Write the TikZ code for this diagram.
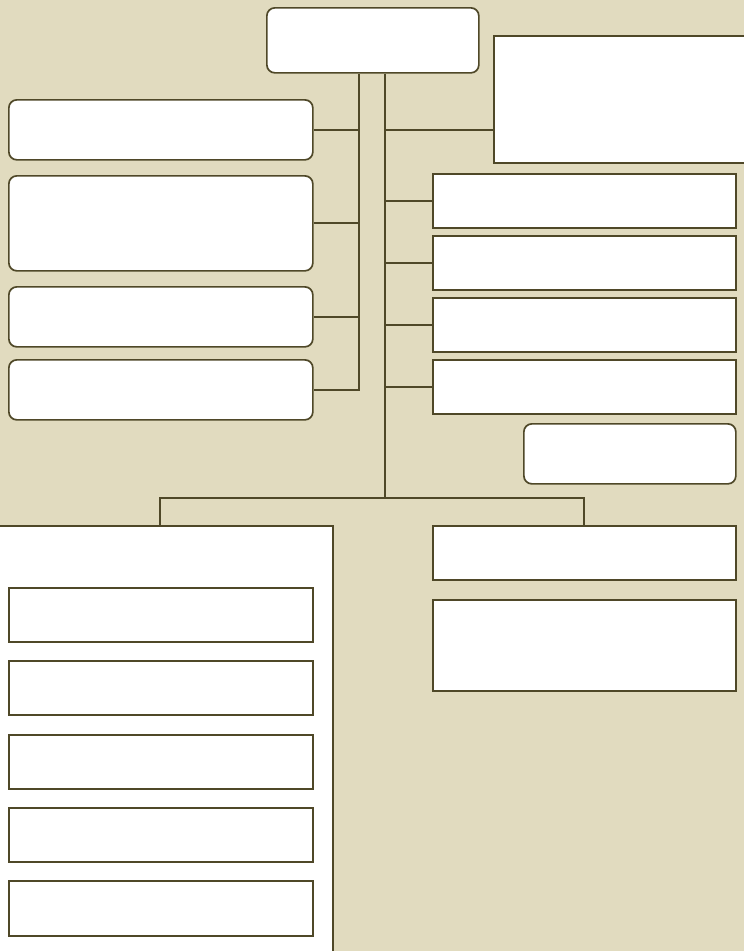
\documentclass[tikz,border=0pt]{standalone}
\usepackage{xcolor}
\usepackage{tikz}
\usetikzlibrary{positioning, calc}

\definecolor{paper}{HTML}{E1DBBF}
\definecolor{olive}{HTML}{4F4828}

\begin{document}
\begin{tikzpicture}[x=1pt, y=-1pt,
		box/.style={draw=olive, fill=white, line width=1.7pt, inner sep=0pt, anchor=north west},
		rbox/.style={box, rounded corners=8pt},
		sbox/.style={box},
		link/.style={draw=olive, line width=2pt}]
		% Background
		\useasboundingbox (0,0) rectangle (744,951);
		\fill[paper] (0,0) rectangle (744,951);
		
		% Top box and the two trunks
		\node[rbox, minimum width=212pt, minimum height=65pt] (top) at (266,7) {};
		\coordinate (trunkL) at (359,0);
		\coordinate (trunkR) at (385,0);
		
		% Right head box (runs off the page)
		\node[sbox, minimum width=262pt, minimum height=127pt] (head) at (493,35) {};
		
		% Left rounded boxes
		\node[rbox, minimum width=304pt, minimum height=60pt] (lb1) at (8,99) {};
		\node[rbox, minimum width=304pt, minimum height=95pt] (lb2) at (8,175) {};
		\node[rbox, minimum width=304pt, minimum height=60pt] (lb3) at (8,286) {};
		\node[rbox, minimum width=304pt, minimum height=60pt] (lb4) at (8,359) {};
		
		% Right square boxes
		\node[sbox, minimum width=303pt, minimum height=54pt] (rb1) at (432,173) {};
		\node[sbox, minimum width=303pt, minimum height=54pt] (rb2) at (432,235) {};
		\node[sbox, minimum width=303pt, minimum height=54pt] (rb3) at (432,297) {};
		\node[sbox, minimum width=303pt, minimum height=54pt] (rb4) at (432,359) {};
		
		% Loose rounded box
		\node[rbox, minimum width=212pt, minimum height=60pt] (loose) at (523,423) {};
		
		% Lower branches
		\node[sbox, minimum width=345pt, minimum height=440pt] (big) at (-13,525) {};
		\node[sbox, minimum width=304pt, minimum height=54pt] (in1) at (8,587) {};
		\node[sbox, minimum width=304pt, minimum height=54pt] (in2) at (8,660) {};
		\node[sbox, minimum width=304pt, minimum height=54pt] (in3) at (8,734) {};
		\node[sbox, minimum width=304pt, minimum height=54pt] (in4) at (8,807) {};
		\node[sbox, minimum width=304pt, minimum height=55pt] (in5) at (8,880) {};
		\node[sbox, minimum width=303pt, minimum height=54pt] (rb5) at (432,525) {};
		\node[sbox, minimum width=303pt, minimum height=91pt] (rb6) at (432,599) {};
		
		% Left trunk
		\draw[link] (top.south -| trunkL) -- (trunkL |- lb4.east) -- (lb4.east);
		\foreach \n in {lb1, lb2, lb3}
		\draw[link] (\n.east) -- (\n.east -| trunkL);
		
		% Right trunk
		\coordinate (fork) at (385,498);
		\draw[link] (top.south -| trunkR) -- (fork);
		\draw[link] (head.west |- lb1.east) -- (trunkR |- lb1.east);
		\foreach \n in {rb1, rb2, rb3, rb4}
		\draw[link] (\n.west) -- (\n.west -| trunkR);
		
		% Fork to the lower branches
		\coordinate (dropL) at (160,498);
		\draw[link] (dropL |- big.north) -- (dropL) -- (rb5.north |- fork) -- (rb5.north);
	\end{tikzpicture}
\end{document}
